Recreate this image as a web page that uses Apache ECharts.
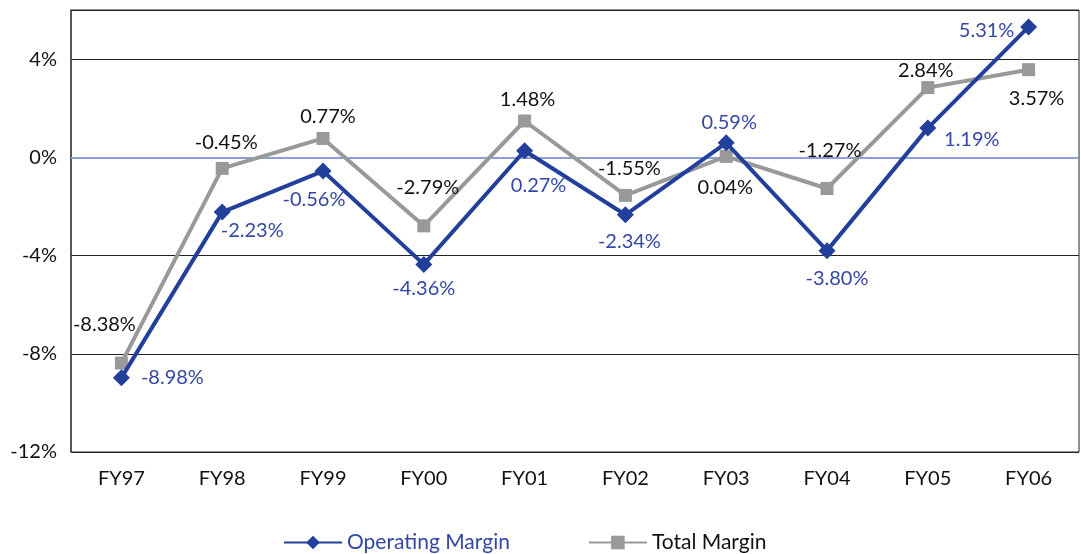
<!DOCTYPE html>
<html>
<head>
<meta charset="utf-8">
<script src="https://cdn.jsdelivr.net/npm/echarts@6/dist/echarts.min.js"></script>
<style>
  html, body { margin: 0; padding: 0; background: #fff; }
  #chart { width: 1081px; height: 554px; }
</style>
</head>
<body>
<div id="chart"></div>
<script>
// data
const years = ['FY97', 'FY98', 'FY99', 'FY00', 'FY01', 'FY02', 'FY03', 'FY04', 'FY05', 'FY06'];
const operatingMargin = [-8.98, -2.23, -0.56, -4.36, 0.27, -2.34, 0.59, -3.80, 1.19, 5.31];
const totalMargin = [-8.38, -0.45, 0.77, -2.79, 1.48, -1.55, 0.04, -1.27, 2.84, 3.57];

// label placement (offset of label centre from the point, px)
const opLabelOffsets = [[51, 0], [30, 18], [-9, 28], [0, 24], [14, 35], [4, 27], [3, -20], [10, 28], [44, 11], [-42, 4]];
const totLabelOffsets = [[-17, -39], [4, -26], [5, -22], [4, -38], [3, -21], [4, -27], [-1, 31], [3, -38], [-2, -17], [8, 29]];

const FONT = 'Lato';
const FS = 20;
const BLUE = '#233f9c';
const BLUE_TEXT = '#3347a6';
const GREY = '#999999';

function withLabels(values, offsets, color) {
  return values.map((v, i) => ({
    value: v,
    label: {
      show: true,
      position: 'inside',
      offset: offsets[i],
      formatter: p => p.value.toFixed(2) + '%',
      color: color,
      fontFamily: FONT,
      fontSize: FS
    }
  }));
}

const chart = echarts.init(document.getElementById('chart'));
chart.setOption({
  animation: false,
  grid: { left: 71, right: 2, top: 10, bottom: 102, show: true, borderColor: '#222', borderWidth: 1, backgroundColor: 'transparent' },
  legend: {
    left: 278,
    top: 527,
    itemWidth: 58,
    itemHeight: 17,
    itemGap: 78,
    textStyle: { fontFamily: FONT, fontSize: 21 },
    data: [
      { name: 'Operating Margin', textStyle: { color: BLUE_TEXT } },
      { name: 'Total Margin', textStyle: { color: '#111' } }
    ]
  },
  xAxis: {
    type: 'category',
    data: years,
    axisLine: { lineStyle: { color: '#111', width: 1 } },
    axisTick: { show: false },
    axisLabel: { color: '#111', fontFamily: FONT, fontSize: FS, margin: 17 }
  },
  yAxis: {
    type: 'value',
    min: -12,
    max: 6,
    interval: 4,
    axisLine: { show: true, lineStyle: { color: '#444', width: 1.5 } },
    axisTick: { show: false },
    splitLine: { lineStyle: { color: '#222', width: 1 } },
    axisLabel: {
      color: '#111', fontFamily: FONT, fontSize: FS, margin: 14, showMaxLabel: false,
      formatter: v => v + '%'
    }
  },
  series: [
    {
      name: 'Operating Margin',
      type: 'line',
      data: withLabels(operatingMargin, opLabelOffsets, BLUE_TEXT),
      symbol: 'diamond',
      symbolSize: 17,
      z: 3,
      lineStyle: { color: BLUE, width: 4 },
      itemStyle: { color: BLUE },
      markLine: {
        silent: true,
        symbol: 'none',
        label: { show: false },
        lineStyle: { color: '#8e9fd8', width: 2, type: 'solid' },
        data: [{ yAxis: 0 }],
        z: 1
      }
    },
    {
      name: 'Total Margin',
      type: 'line',
      data: withLabels(totalMargin, totLabelOffsets, '#111'),
      symbol: 'rect',
      symbolSize: 13,
      z: 2,
      lineStyle: { color: GREY, width: 4 },
      itemStyle: { color: GREY }
    }
  ]
});
</script>
</body>
</html>
